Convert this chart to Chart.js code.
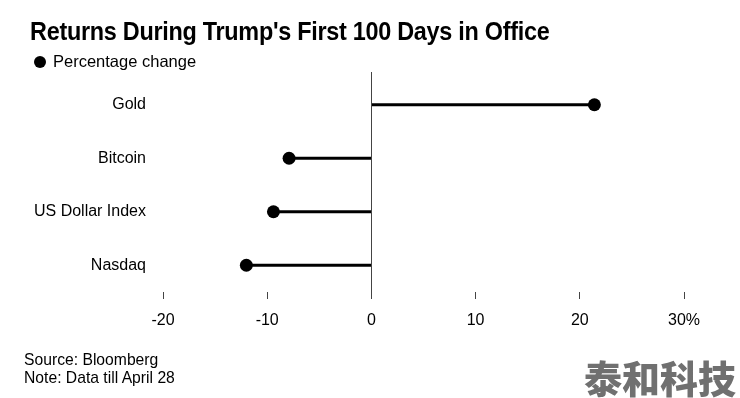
<!DOCTYPE html>
<html>
<head>
<meta charset="utf-8">
<script src="https://cdn.jsdelivr.net/npm/chart.js@4.4.1/dist/chart.umd.min.js"></script>
<style>
  html, body { margin: 0; padding: 0; background: #fff; }
  #wrap { position: relative; width: 740px; height: 398px; overflow: hidden; font-family: "Liberation Sans", Arial, sans-serif; color: #000; }
  #chart { position: absolute; left: 0; top: 0; }
  #title { position: absolute; left: 30px; top: 17px; font-size: 25px; font-weight: bold; white-space: nowrap; transform-origin: 0 0; letter-spacing: -0.3px; }
  #legend { position: absolute; left: 34px; top: 52px; font-size: 16.5px; white-space: nowrap; }
  #legend .dot { display: inline-block; width: 12px; height: 12px; border-radius: 50%; background: #000; margin-right: 7px; vertical-align: -1px; }
  #note { position: absolute; left: 24px; top: 351px; font-size: 15.7px; line-height: 18px; white-space: nowrap; }
  #mark { position: absolute; left: 584px; top: 349px; font-family: "Noto Sans CJK SC", sans-serif; font-weight: 900; font-size: 38px; color: #707070; white-space: nowrap; }
</style>
</head>
<body>
<div id="wrap">
  <canvas id="chart" width="740" height="398"></canvas>
  <div id="title">Returns During Trump's First 100 Days in Office</div>
  <div id="legend"><span class="dot"></span>Percentage change</div>
  <div id="note">Source: Bloomberg<br>Note: Data till April 28</div>
  <div id="mark">泰和科技</div>
</div>
<script>
const categories = ["Gold", "Bitcoin", "US Dollar Index", "Nasdaq"];
const changes = [21.4, -7.9, -9.4, -12.0];
const xTicks = [-20, -10, 0, 10, 20, 30];

// squeeze the title to the reference width
const title = document.getElementById("title");
title.style.transform = "scaleX(" + (519 / title.offsetWidth) + ")";

const zeroLine = {
    id: "zeroLine",
    afterDatasetsDraw(chart) {
        const x = chart.scales.x.getPixelForValue(0);
        const c = chart.ctx;
        c.save();
        c.strokeStyle = "#444";
        c.lineWidth = 1;
        c.beginPath();
        c.moveTo(Math.round(x) + 0.5, 72);
        c.lineTo(Math.round(x) + 0.5, chart.chartArea.bottom + 7);
        c.stroke();
        c.restore();
    }
};

const ctx = document.getElementById("chart").getContext("2d");
new Chart(ctx, {
    type: "bar",
    data: {
        labels: categories,
        datasets: [
            {
                type: "bar",
                indexAxis: "y",
                data: changes,
                backgroundColor: "#000",
                barThickness: 2.5,
                order: 2
            },
            {
                type: "line",
                indexAxis: "y",
                data: changes,
                showLine: false,
                pointRadius: 6.5,
                pointBackgroundColor: "#000",
                pointBorderWidth: 0,
                order: 1
            }
        ]
    },
    options: {
        indexAxis: "y",
        responsive: false,
        animation: false,
        layout: { padding: { top: 78, right: 56, left: 0, bottom: 0 } },
        plugins: { legend: { display: false }, tooltip: { enabled: false } },
        scales: {
            x: {
                type: "linear",
                min: -20,
                max: 30,
                afterBuildTicks: (scale) => { scale.ticks = xTicks.map(v => ({ value: v })); },
                afterFit: (scale) => { scale.height = 106; },
                grid: {
                    drawOnChartArea: false,
                    drawTicks: true,
                    tickLength: 7,
                    tickColor: "#444"
                },
                border: { display: false },
                ticks: {
                    color: "#000",
                    padding: 12,
                    maxRotation: 0,
                    font: { family: "Liberation Sans", size: 16 },
                    callback: (v) => v === 30 ? "30%" : String(v)
                }
            },
            y: {
                type: "category",
                offset: true,
                afterFit: (scale) => { scale.width = 163; },
                grid: { display: false },
                border: { display: false },
                ticks: {
                    color: "#000",
                    padding: 9,
                    font: { family: "Liberation Sans", size: 16 }
                }
            }
        }
    },
    plugins: [zeroLine]
});
</script>
</body>
</html>
